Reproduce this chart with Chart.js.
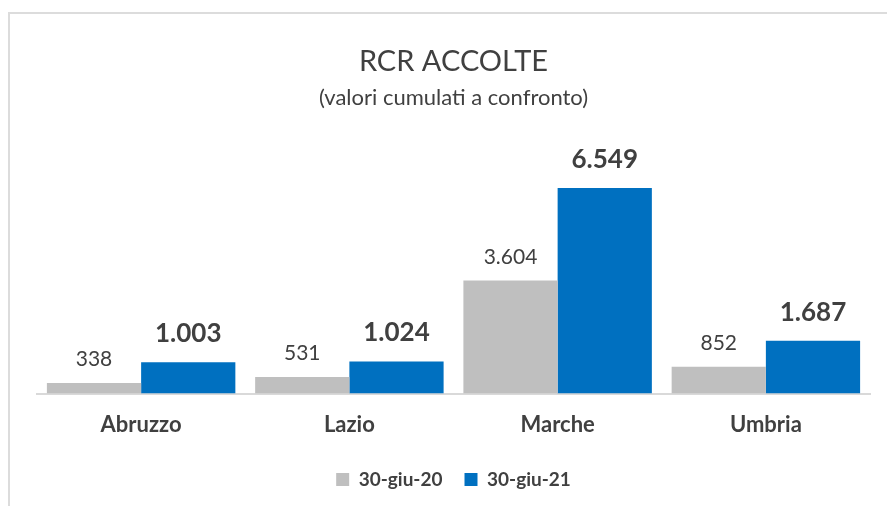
<!DOCTYPE html>
<html>
<head>
<meta charset="utf-8">
<script src="https://cdn.jsdelivr.net/npm/chart.js@4.4.1/dist/chart.umd.min.js"></script>
<style>
  html, body { margin: 0; padding: 0; background: #fff; overflow: hidden; }
  #frame { position: absolute; left: 8px; top: 12px; width: 1000px; height: 600px; border: 2px solid #dcdcdc; }
  #wrap { position: absolute; left: 0; top: 0; width: 887px; height: 506px; }
</style>
</head>
<body>
<div id="frame"></div>
<div id="wrap"><canvas id="chart-1" width="887" height="506"></canvas></div>
<script>
/* global Chart */

const regions = ['Abruzzo', 'Lazio', 'Marche', 'Umbria']
const seriesNames = ['30-giu-20', '30-giu-21']
const values2020 = [338, 531, 3604, 852]
const values2021 = [1003, 1024, 6549, 1687]

const TEXT = '#404040'
const FONT = 'Lato, "Open Sans", sans-serif'

// numbers with a dot as thousands separator, like the original
const fmt = v => String(v).replace(/\B(?=(\d{3})+(?!\d))/g, '.')

const valueLabels = {
  id: 'valueLabels',
  afterDatasetsDraw (chart) {
    const ctx = chart.ctx
    ctx.save()
    ctx.textAlign = 'center'
    ctx.textBaseline = 'alphabetic'
    ctx.fillStyle = TEXT
    chart.data.datasets.forEach((ds, i) => {
      const meta = chart.getDatasetMeta(i)
      ctx.font = i === 0 ? `21px ${FONT}` : `bold 26px ${FONT}`
      const gap = i === 0 ? 17 : 20
      meta.data.forEach((bar, j) => {
        ctx.fillText(fmt(ds.data[j]), bar.x, bar.y - gap)
      })
    })
    ctx.restore()
  }
}

const config = {
  type: 'bar',
  data: {
    labels: regions,
    datasets: [
      { label: seriesNames[0], data: values2020, backgroundColor: '#bfbfbf' },
      { label: seriesNames[1], data: values2021, backgroundColor: '#0070c0' }
    ]
  },
  options: {
    responsive: false,
    animation: false,
    layout: { padding: { left: 37, right: 17, top: 0, bottom: 7 } },
    datasets: { bar: { categoryPercentage: 0.905, barPercentage: 1 } },
    plugins: {
      title: {
        display: true,
        text: 'RCR ACCOLTE',
        color: TEXT,
        font: { family: FONT, size: 29, weight: 'normal' },
        padding: { top: 44, bottom: 6 }
      },
      subtitle: {
        display: true,
        text: '(valori cumulati a confronto)',
        color: TEXT,
        font: { family: FONT, size: 22, weight: 'normal' },
        padding: { top: 0, bottom: 0 }
      },
      legend: {
        position: 'bottom',
        labels: {
          color: TEXT,
          font: { family: FONT, size: 19, weight: 'bold' },
          boxWidth: 13,
          boxHeight: 13,
          padding: 22
        }
      },
      tooltip: { enabled: false }
    },
    scales: {
      x: {
        grid: { display: false },
        border: { color: '#d9d9d9', width: 2 },
        ticks: { color: TEXT, font: { family: FONT, size: 22, weight: 'bold' }, padding: 10 }
      },
      y: {
        display: false,
        min: 0,
        max: 9000
      }
    }
  },
  plugins: [valueLabels]
}

const barChart = new Chart(document.getElementById('chart-1'), config)
</script>
</body>
</html>
